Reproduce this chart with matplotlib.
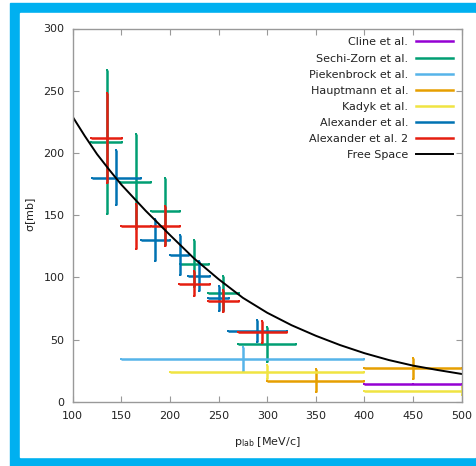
import numpy as np
import matplotlib.pyplot as plt
from matplotlib.lines import Line2D
from matplotlib.patches import Rectangle

# data sets: centre, half-width in p_lab, cross section, error
cline_p = [450]
cline_dp = [50]
cline_s = [14]
cline_ds = [0]

sechi_p = [135, 165, 195, 225, 255, 300]
sechi_dp = [16, 16, 15, 15, 16, 30]
sechi_s = [209, 177, 153, 111, 87, 46]
sechi_ds = [58, 38, 27, 19, 14, 14]

pieken_p = [275]
pieken_dp = [125]
pieken_s = [34]
pieken_ds = [10]

haupt_p = [350, 450]
haupt_dp = [50, 50]
haupt_s = [17, 27]
haupt_ds = [9.5, 8.5]

kadyk_p = [300, 500]
kadyk_dp = [100, 100]
kadyk_s = [24, 8.5]
kadyk_ds = [5.5, 3]

alex_p = [145, 185, 210, 230, 250, 290]
alex_dp = [25, 15, 10, 11, 11, 30]
alex_s = [180, 130, 118, 101, 83, 57]
alex_ds = [22, 17, 16, 12, 10, 9]

alex2_p = [135, 165, 195, 225, 255, 295]
alex2_dp = [16, 15, 15, 16, 16, 25]
alex2_s = [212, 141, 141, 95, 81, 56]
alex2_ds = [36, 18, 16, 10, 9, 9]

# free space cross section
fs_p = [100, 112.5, 125, 137.5, 150, 175, 200, 225, 250, 275, 300, 325, 350, 375, 400, 425, 450, 475, 500]
fs_s = [229, 213.5, 199, 186.5, 174.5, 153.5, 134, 115, 98.5, 83.5, 71.5, 61.5, 53, 45.5, 39, 33.5, 29, 25.5, 22.3]

labels = ['Cline et al.', 'Sechi-Zorn et al.', 'Piekenbrock et al.', 'Hauptmann et al.',
          'Kadyk et al.', 'Alexander et al.', 'Alexander et al. 2', 'Free Space']
colors = ['#9400d3', '#009e73', '#56b4e9', '#e69f00', '#f0e442', '#0072b2', '#e51e10', 'black']

sets = [(cline_p, cline_dp, cline_s, cline_ds),
        (sechi_p, sechi_dp, sechi_s, sechi_ds),
        (pieken_p, pieken_dp, pieken_s, pieken_ds),
        (haupt_p, haupt_dp, haupt_s, haupt_ds),
        (kadyk_p, kadyk_dp, kadyk_s, kadyk_ds),
        (alex_p, alex_dp, alex_s, alex_ds),
        (alex2_p, alex2_dp, alex2_s, alex2_ds)]

W, H = 477, 466
fig = plt.figure(figsize=(W / 100, H / 100), dpi=100)

# blue frame round the plot
fig.add_artist(Rectangle((10 / W, 0), 1, (H - 3) / H, transform=fig.transFigure,
                         color='#00b0f0', zorder=0))
fig.add_artist(Rectangle((20 / W, (H - 457) / H), (475 - 20) / W, (457 - 13) / H,
                         transform=fig.transFigure, color='white', zorder=0.5))

ax = fig.add_axes([72.7 / W, 1 - 401.7 / H, (461.7 - 72.7) / W, (401.7 - 28.5) / H])
ax.set_zorder(2)

for (p, dp, s, ds), c in zip(sets, colors):
    ax.errorbar(p, s, xerr=dp, yerr=ds, fmt='none', ecolor=c, elinewidth=1.8,
                capsize=1.0, capthick=1.4)

ax.plot(fs_p, fs_s, color='black', lw=1.4)

ax.set_xlim(100, 500)
ax.set_ylim(0, 300)
ax.set_xticks(np.arange(100, 501, 50))
ax.set_yticks(np.arange(0, 301, 50))
ax.tick_params(direction='in', top=True, right=True, length=4, width=0.8,
               color='#999999', labelsize=8, labelcolor='#222222')
ax.tick_params(axis='x', pad=7)
ax.tick_params(axis='y', pad=6)
for sp in ax.spines.values():
    sp.set_color('#999999')
    sp.set_linewidth(1.0)

ax.set_xlabel(r'p$_{\mathregular{lab}}$ [MeV/c]', fontsize=8, color='#222222', labelpad=10)
ax.set_ylabel(r'$\mathregular{\sigma}$[mb]', fontsize=8, color='#222222', labelpad=4)

handles = [Line2D([], [], color=c, lw=1.4 if c == 'black' else 1.8) for c in colors]
ax.legend(handles, labels, loc='upper right', frameon=False, markerfirst=False,
          fontsize=8, handlelength=3.3, handletextpad=0.7, labelspacing=0.55,
          borderaxespad=0.4, labelcolor='#222222')

fig.savefig('out.png', dpi=100)
